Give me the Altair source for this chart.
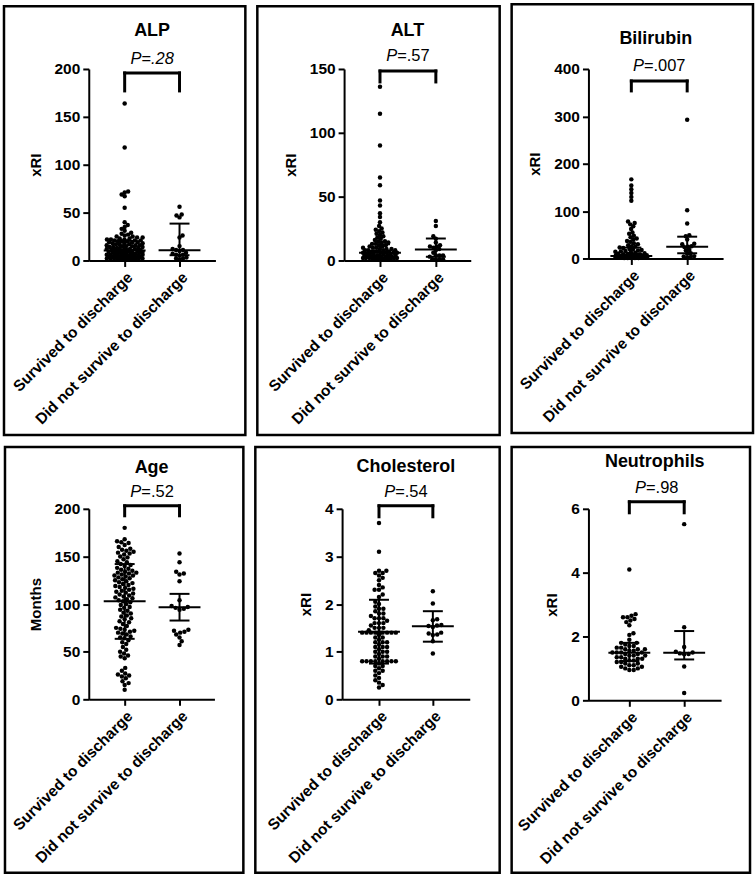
import math
import altair as alt
import pandas as pd

FONT = "Liberation Sans"

GROUPS = ["Survived to discharge", "Did not survive to discharge"]
TITLES = ["ALP", "ALT", "Bilirubin", "Age", "Cholesterol", "Neutrophils"]
Y_TITLES = ["xRI", "xRI", "xRI", "Months", "xRI", "xRI"]
Y_MAX = [200, 150, 400, 200, 4, 6]
Y_STEP = [50, 50, 100, 50, 1, 2]
P_TEXT = ["=.28", "=.57", "=.007", "=.52", "=.54", "=.98"]
P_ALL_ITALIC = [True, False, False, False, False, False]

# Individual values per group
ALP_SURVIVED = [164, 118, 72, 71, 69, 67, 55, 40, 37, 35, 33, 31, 29, 28, 27, 26, 25, 25,
                24, 24, 23, 23, 22, 22, 22, 21, 21, 21, 20, 20, 20, 19, 19, 19, 18, 18, 18,
                17, 17, 17, 16, 16, 16, 15, 15, 15, 14, 14, 14, 13, 13, 13, 12, 12, 12, 12,
                11, 11, 11, 11, 10, 10, 10, 10, 9, 9, 9, 9, 8, 8, 8, 8, 7, 7, 7, 7, 6, 6, 6,
                6, 6, 5, 5, 5, 5, 5, 4, 4, 4, 4, 4, 3, 3, 3, 3, 3, 3, 2, 2, 2, 2, 2, 2,
                1, 1, 1, 1, 1, 1]
ALP_DIED = [56, 48, 47, 45, 26, 24, 15, 12, 11, 11, 10, 8, 7, 6, 6, 5, 3, 2, 2, 1]

ALT_SURVIVED = [136, 115, 90, 65, 59, 47, 43, 37, 34, 30, 27, 25, 24, 23, 22, 21, 20, 19,
                18, 17, 16, 15, 15, 14, 14, 13, 13, 12, 12, 11, 11, 10, 10, 10, 9, 9, 9,
                8, 8, 8, 8, 7, 7, 7, 7, 6, 6, 6, 6, 6, 5, 5, 5, 5, 5, 4, 4, 4, 4, 4,
                3, 3, 3, 3, 3, 3, 2, 2, 2, 2, 2, 2, 2, 1, 1, 1, 1, 1, 1]
ALT_DIED = [31, 27, 19, 17, 14, 12, 11, 11, 10, 9, 8, 6, 4, 4, 4, 3, 1, 1, 1, 1]

BILI_SURVIVED = [167, 154, 146, 138, 130, 122, 78, 75, 72, 68, 62, 55, 52, 48, 45, 42, 40,
                 37, 35, 32, 30, 28, 26, 25, 23, 22, 20, 19, 18, 17, 16, 15, 14, 13, 12, 11,
                 10, 10, 9, 9, 8, 8, 7, 7, 7, 6, 6, 6, 6, 5, 5, 5, 5, 5, 4, 4, 4, 4, 4, 4,
                 3, 3, 3, 3, 3, 3, 3, 2, 2, 2, 2, 2, 2, 2, 1, 1, 1, 1, 1]
BILI_DIED = [293, 102, 74, 49, 47, 40, 31, 30, 26, 25, 24, 18, 17, 11, 10, 5, 4, 3, 2]

AGE_SURVIVED = [180,
                168, 166, 165, 164, 162, 160, 158, 157, 156, 155,
                154, 153, 152, 150, 149, 147, 145, 144, 142, 141,
                140, 138, 137, 136, 135, 134, 133, 133, 132, 131, 130, 130, 129, 128, 127,
                126, 125, 124, 123, 122,
                121, 120, 119, 118, 117, 116, 115, 114, 113, 112, 111, 110, 109, 108, 107,
                106, 105, 104, 103, 102,
                100, 99, 97, 96, 94, 93, 91, 90, 88, 87, 85, 84, 82, 81,
                79, 77, 75, 74, 73, 72, 71, 70, 69, 68, 66, 65, 64, 62, 60,
                58, 55, 52, 50, 48, 46, 45, 43,
                33, 30, 27, 26, 25, 24, 22, 19, 17, 15,
                10]
AGE_DIED = [153, 144, 134, 132, 131, 124, 104, 98, 97, 96, 95, 94, 73, 72, 71, 70, 68, 65,
            61, 57]

CHOL_SURVIVED = [3.7, 3.1,
                 2.7, 2.7, 2.65, 2.65, 2.6, 2.55, 2.5, 2.4, 2.35, 2.3, 2.3, 2.2, 2.15,
                 2.05, 2.0, 1.95, 1.9, 1.9, 1.85, 1.8, 1.8, 1.75, 1.7, 1.7, 1.7, 1.65, 1.6,
                 1.6, 1.6, 1.55, 1.5, 1.5, 1.5,
                 1.45, 1.4, 1.4, 1.4, 1.4, 1.4, 1.4, 1.4, 1.4, 1.4, 1.4, 1.35, 1.3, 1.3,
                 1.25, 1.2, 1.2, 1.2, 1.15, 1.1, 1.1, 1.1, 1.05, 1.0, 1.0, 1.0, 0.95, 0.9,
                 0.9, 0.9, 0.85,
                 0.8, 0.8, 0.8, 0.8, 0.8, 0.8, 0.8, 0.8, 0.75, 0.7, 0.7, 0.65, 0.6, 0.6,
                 0.55, 0.5, 0.45, 0.4, 0.35, 0.3, 0.25]
CHOL_DIED = [2.27, 2.01, 1.68, 1.66, 1.56, 1.55, 1.54, 1.52, 1.40, 1.38, 1.36, 1.35, 1.22,
             0.96]

NEUT_SURVIVED = [4.1, 2.7, 2.65, 2.6, 2.6, 2.55, 2.5, 2.45, 2.35, 2.1, 2.05, 1.9, 1.8, 1.8,
                 1.75, 1.7, 1.7, 1.65, 1.65, 1.6, 1.6, 1.6, 1.55, 1.55, 1.5, 1.5, 1.5, 1.5,
                 1.45, 1.45, 1.4, 1.4, 1.4, 1.35, 1.35, 1.3, 1.3, 1.3, 1.25, 1.25, 1.2, 1.2,
                 1.15, 1.15, 1.1, 1.1, 1.05, 1.05, 1.0, 1.0, 0.95, 0.95]
NEUT_DIED = [5.52, 2.29, 1.67, 1.52, 1.5, 1.47, 1.45, 1.44, 1.06, 0.23]

SURVIVED = [ALP_SURVIVED, ALT_SURVIVED, BILI_SURVIVED, AGE_SURVIVED, CHOL_SURVIVED, NEUT_SURVIVED]
DIED = [ALP_DIED, ALT_DIED, BILI_DIED, AGE_DIED, CHOL_DIED, NEUT_DIED]

# Median with interquartile range, per panel
MEDIAN_SURVIVED = [10.5, 6.0, 5.0, 103.0, 1.42, 1.49]
Q1_SURVIVED = [4.0, 2.0, 2.0, 63.5, 0.75, 1.23]
Q3_SURVIVED = [20.5, 12.7, 23.0, 142.0, 2.09, 1.80]
MEDIAN_DIED = [10.7, 8.6, 25.0, 96.6, 1.535, 1.49]
Q1_DIED = [5.5, 2.9, 11.0, 82.7, 1.21, 1.28]
Q3_DIED = [38.5, 17.2, 46.0, 110.7, 1.85, 2.17]

# Panel geometry (pixels): plot size, first category position and spacing,
# frame offsets around the plot, vertical offsets of the annotations,
# dot spacing and the widest the swarm may spread.
LAYOUT = [
    dict(w=127, h=192, c0=36, step=55, left=85, top=63, rw=242, rh=430, t_y=-38, p_y=-10, b_top=4, b_bot=22, d=3.6, wmax=18),
    dict(w=127, h=192, c0=36, step=56, left=87, top=63, rw=243, rh=430, t_y=-38, p_y=-13, b_top=2, b_bot=13, d=3.6, wmax=17),
    dict(w=135, h=190, c0=43, step=56, left=77, top=65, rw=242, rh=430, t_y=-30, p_y=-3, b_top=12, b_bot=22, d=3.6, wmax=16),
    dict(w=126, h=191, c0=36, step=55, left=84, top=62, rw=239, rh=427, t_y=-41, p_y=-17, b_top=-3, b_bot=7, d=4.4, wmax=21),
    dict(w=128, h=191, c0=37, step=54, left=87, top=62, rw=245, rh=427, t_y=-42, p_y=-17, b_top=-3, b_bot=8, d=4.4, wmax=19),
    dict(w=133, h=192, c0=41, step=55, left=77, top=62, rw=239, rh=427, t_y=-47, p_y=-21, b_top=-7, b_bot=4, d=4.4, wmax=18),
]

LABEL_SIZE = 15.5
TITLE_SIZE = 18
P_SIZE = 16.5

CHAR_EM = {"P": 0.667, "=": 0.584, ".": 0.278}


def text_width(s, size):
    return sum(CHAR_EM.get(ch, 0.556) for ch in s) * size


def swarm(values, px_per_unit, d, wmax):
    """Horizontal pixel offsets for a beeswarm; dense rows overlap inside wmax."""
    order = sorted(range(len(values)), key=lambda k: values[k])
    placed = []
    offs = [0.0] * len(values)
    side = 1
    for k in order:
        y = values[k] * px_per_unit
        spans = []
        for py, px in placed:
            dy = abs(py - y)
            if dy < d:
                dx = math.sqrt(d * d - dy * dy)
                spans.append((px - dx, px + dx))
        cands = [0.0] + [a for a, _ in spans] + [b for _, b in spans]
        cands = [c for c in cands if abs(c) <= wmax]
        cands.sort(key=lambda c: (round(abs(c), 6), -side * c))
        best = None
        for c in cands:
            if all(not (a + 1e-6 < c < b - 1e-6) for a, b in spans):
                best = c
                break
        if best is None:
            # no free slot: take the spot farthest from its neighbours
            best_score = -1.0
            steps = int(wmax * 4)
            for s in range(-steps, steps + 1):
                c = s / 4.0
                score = min(math.hypot(px - c, py - y) for py, px in placed)
                if score > best_score + 1e-9 or (abs(score - best_score) <= 1e-9 and abs(c) < abs(best)):
                    best_score = score
                    best = c
        if best != 0.0:
            side = -side
        offs[k] = best
        placed.append((y, best))
    return offs


def panel(i):
    L = LAYOUT[i]
    ymax = Y_MAX[i]
    ppu = L["h"] / ymax
    lo = -L["c0"] / L["step"]
    hi = (L["w"] - L["c0"]) / L["step"]

    rows = []
    for g, vals in enumerate([SURVIVED[i], DIED[i]]):
        for v, o in zip(vals, swarm(vals, ppu, L["d"], L["wmax"])):
            rows.append({"group": GROUPS[g], "x": g + o / L["step"], "v": v})
    pts = pd.DataFrame(rows)

    summary = pd.DataFrame({
        "g": [0, 1],
        "med": [MEDIAN_SURVIVED[i], MEDIAN_DIED[i]],
        "q1": [Q1_SURVIVED[i], Q1_DIED[i]],
        "q3": [Q3_SURVIVED[i], Q3_DIED[i]],
    })

    xs = alt.Scale(domain=[lo, hi], nice=False, zero=False)
    ys = alt.Scale(domain=[0, ymax], nice=False)

    x_axis = alt.Axis(
        values=[0, 1],
        labelExpr="datum.value == 0 ? '%s' : '%s'" % (GROUPS[0], GROUPS[1]),
        labelAngle=-45, labelAlign="right", labelBaseline="top",
        labelOverlap=False, labelFlush=False, labelBound=False, labelLimit=0,
        labelFont=FONT, labelFontSize=LABEL_SIZE, labelFontWeight="bold", labelColor="black",
        labelPadding=3, grid=False, domainColor="black", domainWidth=2,
        tickColor="black", tickWidth=2, tickSize=6,
    )
    y_axis = alt.Axis(
        values=[Y_STEP[i] * k for k in range(int(round(ymax / Y_STEP[i])) + 1)],
        labelFont=FONT, labelFontSize=LABEL_SIZE, labelFontWeight="bold", labelColor="black",
        labelPadding=3, labelOverlap=False,
        titleFont=FONT, titleFontSize=15, titleFontWeight="bold", titleColor="black",
        titlePadding=11, grid=False, domainColor="black", domainWidth=2,
        tickColor="black", tickWidth=2, tickSize=6,
    )

    def X(field):
        return alt.X(field, scale=xs, axis=x_axis, title=None)

    def Y(field):
        return alt.Y(field, scale=ys, axis=y_axis, title=Y_TITLES[i])

    points = alt.Chart(pts).mark_circle(size=20, color="black", opacity=1).encode(
        x=X("x:Q"), y=Y("v:Q"))

    sbase = alt.Chart(summary)
    iqr = sbase.mark_rule(color="black", strokeWidth=2).encode(
        x=X("g:Q"), y=Y("q1:Q"), y2="q3:Q")
    cap1 = sbase.mark_tick(orient="horizontal", size=20, thickness=2, color="black",
                           opacity=1).encode(x=X("g:Q"), y=Y("q1:Q"))
    cap3 = sbase.mark_tick(orient="horizontal", size=20, thickness=2, color="black",
                           opacity=1).encode(x=X("g:Q"), y=Y("q3:Q"))
    med = sbase.mark_tick(orient="horizontal", size=42, thickness=2, color="black",
                          opacity=1).encode(x=X("g:Q"), y=Y("med:Q"))

    br = alt.Chart(pd.DataFrame({"a": [0], "b": [1]}))
    br_h = br.mark_rule(color="black", strokeWidth=3, strokeCap="square").encode(
        x=X("a:Q"), x2="b:Q", y=alt.value(L["b_top"]))
    br_l = br.mark_rule(color="black", strokeWidth=3, strokeCap="square").encode(
        x=X("a:Q"), y=alt.value(L["b_top"]), y2=alt.value(L["b_bot"]))
    br_r = br.mark_rule(color="black", strokeWidth=3, strokeCap="square").encode(
        x=X("b:Q"), y=alt.value(L["b_top"]), y2=alt.value(L["b_bot"]))

    pdata = alt.Chart(pd.DataFrame({"m": [0.5]}))
    if P_ALL_ITALIC[i]:
        p_marks = [pdata.mark_text(text="P" + P_TEXT[i], font=FONT, fontSize=P_SIZE,
                                   fontStyle="italic", color="black", baseline="middle",
                                   align="center").encode(x=X("m:Q"), y=alt.value(L["p_y"]))]
    else:
        total = text_width("P" + P_TEXT[i], P_SIZE)
        split = -total / 2 + text_width("P", P_SIZE)
        p_marks = [
            pdata.mark_text(text="P", font=FONT, fontSize=P_SIZE, fontStyle="italic",
                            color="black", baseline="middle", align="right",
                            dx=split).encode(x=X("m:Q"), y=alt.value(L["p_y"])),
            pdata.mark_text(text=P_TEXT[i], font=FONT, fontSize=P_SIZE, color="black",
                            baseline="middle", align="left",
                            dx=split).encode(x=X("m:Q"), y=alt.value(L["p_y"])),
        ]

    title = pdata.mark_text(text=TITLES[i], font=FONT, fontSize=TITLE_SIZE, fontWeight="bold",
                            color="black", baseline="middle", align="center").encode(
        x=alt.value(L["w"] / 2), y=alt.value(L["t_y"]))

    frame = pdata.mark_rect(fill="transparent", stroke="black", strokeWidth=2.5).encode(
        x=alt.value(-L["left"]), x2=alt.value(L["rw"] - L["left"]),
        y=alt.value(-L["top"]), y2=alt.value(L["rh"] - L["top"]))

    return alt.layer(points, iqr, cap1, cap3, med, br_h, br_l, br_r, *p_marks, title,
                     frame).properties(width=L["w"], height=L["h"])


row1 = alt.hconcat(panel(0), panel(1), panel(2), spacing=8)
row2 = alt.hconcat(panel(3), panel(4), panel(5), spacing=8)

chart = alt.vconcat(row1, row2, spacing=8).properties(
    padding={"left": 2, "top": 1, "right": 0, "bottom": 0},
    background="white",
).configure_view(strokeWidth=0)

chart.save("out.html", embed_options={"renderer": "svg", "actions": False})
